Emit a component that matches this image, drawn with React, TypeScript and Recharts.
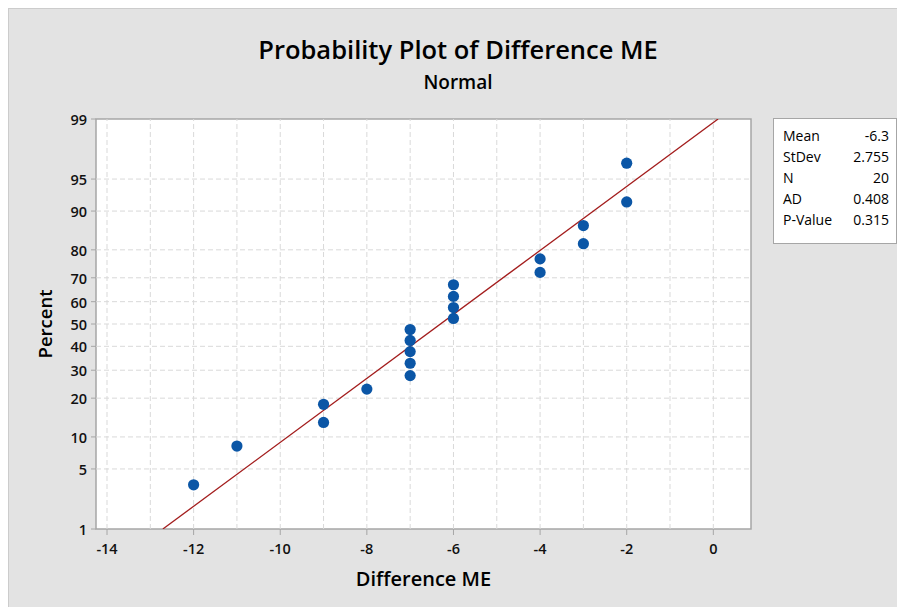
import {
  ScatterChart, Scatter, XAxis, YAxis, ReferenceLine, ReferenceArea,
} from "recharts";

// Difference ME values (sorted) and their plotted percent (median ranks)
const diffME = [-12, -11, -9, -9, -8, -7, -7, -7, -7, -7, -6, -6, -6, -6, -4, -4, -3, -3, -2, -2];
const percent = [3.4, 8.3, 13.2, 18.1, 23.0, 27.9, 32.8, 37.7, 42.6, 47.5, 52.5, 57.4, 62.3, 67.2, 72.1, 77.0, 81.9, 86.8, 91.7, 96.6];

// fitted normal line, end points at 1% and 99%
const fitX = [-12.71, 0.11];
const fitPct = [1, 99];

const xTicks = [-14, -12, -10, -8, -6, -4, -2, 0];
const xGrid = [-14, -13, -12, -11, -10, -9, -8, -7, -6, -5, -4, -3, -2, -1, 0];
const yTickPct = [1, 5, 10, 20, 30, 40, 50, 60, 70, 80, 90, 95, 99];

const statLabels = ["Mean", "StDev", "N", "AD", "P-Value"];
const statValues = ["-6.3", "2.755", "20", "0.408", "0.315"];

// inverse normal cdf (Acklam), used to put percents on the probability scale
function probit(pct: number) {
  const p = pct / 100;
  const a = [-3.969683028665376e1, 2.209460984245205e2, -2.759285104469687e2, 1.38357751867269e2, -3.066479806614716e1, 2.506628277459239];
  const b = [-5.447609879822406e1, 1.615858368580409e2, -1.556989798598866e2, 6.680131188771972e1, -1.328068155288572e1];
  const c = [-7.784894002430293e-3, -3.223964580411365e-1, -2.400758277161838, -2.549732539343734, 4.374664141464968, 2.938163982698783];
  const d = [7.784695709041462e-3, 3.224671290700398e-1, 2.445134137142996, 3.754408661907416];
  const pl = 0.02425;
  if (p < pl) {
    const q = Math.sqrt(-2 * Math.log(p));
    return (((((c[0] * q + c[1]) * q + c[2]) * q + c[3]) * q + c[4]) * q + c[5]) / ((((d[0] * q + d[1]) * q + d[2]) * q + d[3]) * q + 1);
  }
  if (p <= 1 - pl) {
    const q = p - 0.5;
    const r = q * q;
    return ((((((a[0] * r + a[1]) * r + a[2]) * r + a[3]) * r + a[4]) * r + a[5]) * q) / (((((b[0] * r + b[1]) * r + b[2]) * r + b[3]) * r + b[4]) * r + 1);
  }
  const q = Math.sqrt(-2 * Math.log(1 - p));
  return -(((((c[0] * q + c[1]) * q + c[2]) * q + c[3]) * q + c[4]) * q + c[5]) / ((((d[0] * q + d[1]) * q + d[2]) * q + d[3]) * q + 1);
}

const FONT = "'Open Sans', 'Noto Sans', sans-serif";
const X_DOMAIN: [number, number] = [-14.254, 0.87];
const Y_DOMAIN: [number, number] = [probit(1), probit(99)];
const GRID = "#d9d9d9";

// map a z value back to its percent label
const pctLabel = (z: number) => {
  let best = yTickPct[0];
  for (const p of yTickPct) if (Math.abs(probit(p) - z) < Math.abs(probit(best) - z)) best = p;
  return String(best);
};

const Dot = (props: any) => <circle cx={props.cx} cy={props.cy} r={5.6} fill="#0b56a6" />;

const XTick = (props: any) => (
  <text x={props.x} y={props.y + 17} textAnchor="middle" fontSize={14.5} fontWeight={600} fontFamily={FONT} fill="#111">
    {props.payload.value}
  </text>
);

const YTick = (props: any) => (
  <text x={props.x} y={props.y + 6} textAnchor="end" fontSize={14.5} fontWeight={600} fontFamily={FONT} fill="#111">
    {pctLabel(props.payload.value)}
  </text>
);

export default function App() {
  const points = diffME.map((x, i) => ({ x, y: probit(percent[i]) }));
  const fit = fitX.map((x, i) => ({ x, y: probit(fitPct[i]) }));
  const yTicks = yTickPct.map(probit);

  return (
    <div
      style={{
        position: "relative", width: 896, height: 598, background: "#e3e3e3",
        borderTop: "1px solid #cccccc", borderLeft: "1px solid #cccccc", fontFamily: FONT,
      }}
    >
      <div style={{ position: "absolute", left: 149, width: 600, top: 26, textAlign: "center", fontSize: 25.5, fontWeight: 600, lineHeight: "28px", color: "#000" }}>
        Probability Plot of Difference ME
      </div>
      <div style={{ position: "absolute", left: 149, width: 600, top: 62, textAlign: "center", fontSize: 19, fontWeight: 600, lineHeight: "22px", color: "#000" }}>
        Normal
      </div>

      <ScatterChart width={896} height={598} margin={{ top: 110, right: 154, bottom: 20, left: 27 }}>
        <ReferenceArea x1={X_DOMAIN[0]} x2={X_DOMAIN[1]} y1={Y_DOMAIN[0]} y2={Y_DOMAIN[1]} fill="#ffffff" fillOpacity={1} stroke="none" />
        {xGrid.map((v) => (
          <ReferenceLine key={"gx" + v} x={v} stroke={GRID} strokeDasharray="5 3" />
        ))}
        {yTicks.slice(1, -1).map((v, i) => (
          <ReferenceLine key={"gy" + i} y={v} stroke={GRID} strokeDasharray="5 3" />
        ))}
        <XAxis
          type="number" dataKey="x" domain={X_DOMAIN} ticks={xTicks} allowDataOverflow interval={0}
          axisLine={false} tickSize={6} tickMargin={2} height={58}
          tickLine={{ stroke: "#a6a6a6" }}
          tick={XTick}
          label={{ value: "Difference ME", position: "insideBottom", offset: 1, style: { fontSize: 20, fontWeight: 600, fill: "#000", fontFamily: FONT } }}
        />
        <YAxis
          type="number" dataKey="y" domain={Y_DOMAIN} ticks={yTicks} allowDataOverflow interval={0}
          axisLine={false} tickSize={5} tickMargin={4} width={60}
          tickLine={{ stroke: "#a6a6a6" }}
          tick={YTick}
          label={{ value: "Percent", angle: -90, position: "insideLeft", offset: 9, style: { textAnchor: "middle", fontSize: 18.5, fontWeight: 600, fill: "#000", fontFamily: FONT } }}
        />
        <ReferenceArea x1={X_DOMAIN[0]} x2={X_DOMAIN[1]} y1={Y_DOMAIN[0]} y2={Y_DOMAIN[1]} fill="none" stroke="#a6a6a6" strokeWidth={1.5} />
        <Scatter data={fit} line={{ stroke: "#a31d1d", strokeWidth: 1.3 }} shape={() => <g />} isAnimationActive={false} />
        <Scatter data={points} shape={Dot} isAnimationActive={false} />
      </ScatterChart>

      <div
        style={{
          position: "absolute", left: 764, top: 109, width: 124, height: 126, boxSizing: "border-box",
          background: "#fff", border: "1px solid #a6a6a6", padding: "6px 7px 0 9px", fontSize: 14, fontWeight: 500, color: "#000",
        }}
      >
        {statLabels.map((l, i) => (
          <div key={l} style={{ display: "flex", justifyContent: "space-between", height: 21, lineHeight: "21px" }}>
            <span>{l}</span>
            <span>{statValues[i]}</span>
          </div>
        ))}
      </div>
    </div>
  );
}
